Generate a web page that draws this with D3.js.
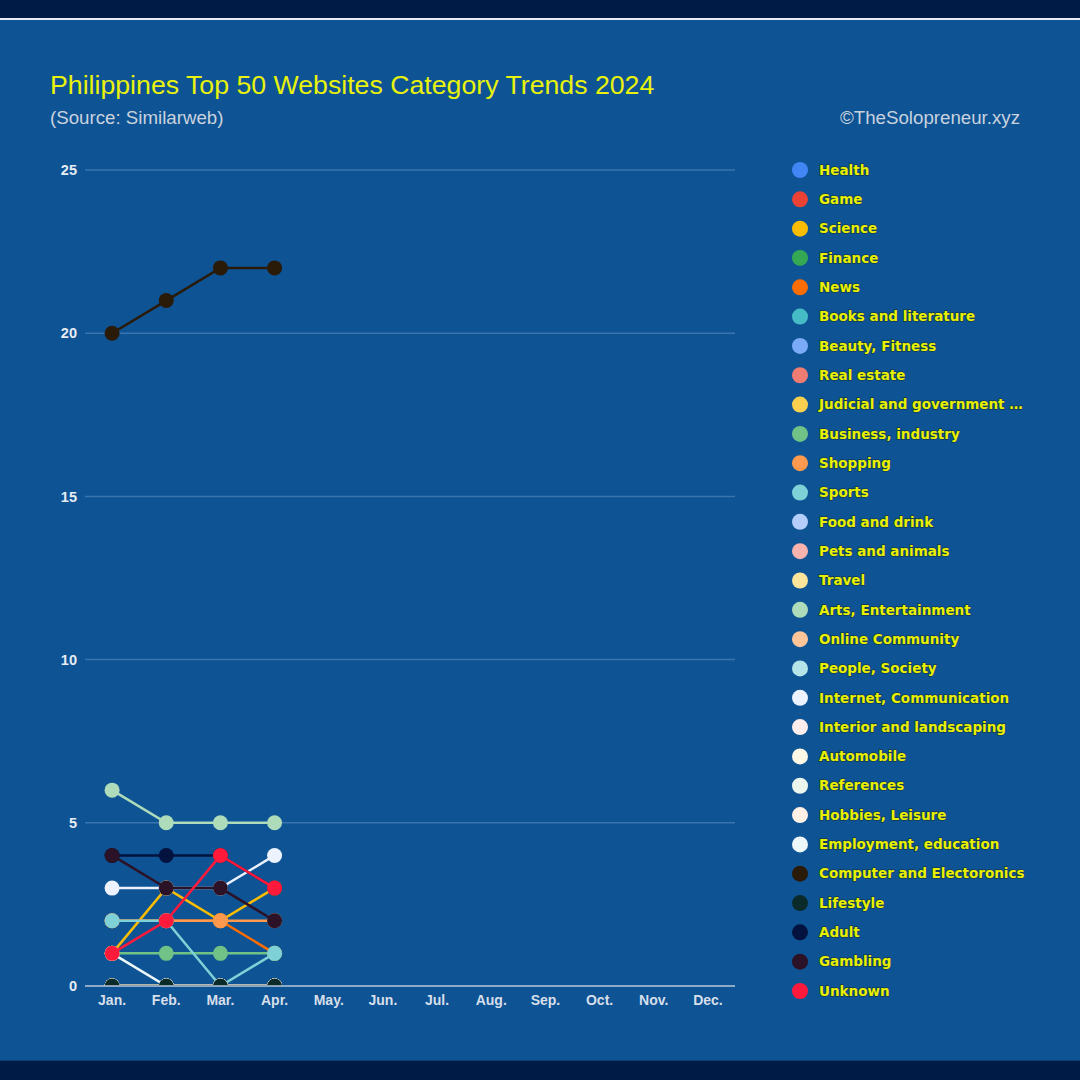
<!DOCTYPE html>
<html>
<head>
<meta charset="utf-8">
<script src="https://cdn.jsdelivr.net/npm/d3@7"></script>
<style>
  html, body { margin: 0; padding: 0; background: #001B46; }
  svg { display: block; }
</style>
</head>
<body>
<svg id="chart" width="1080" height="1080"></svg>
<script>
// ---------- DATA ----------
const months = ["Jan.", "Feb.", "Mar.", "Apr.", "May.", "Jun.", "Jul.", "Aug.", "Sep.", "Oct.", "Nov.", "Dec."];
const yTicks = [0, 5, 10, 15, 20, 25];
const categories = [
  "Health", "Game", "Science", "Finance", "News", "Books and literature", "Beauty, Fitness",
  "Real estate", "Judicial and government agencies", "Business, industry", "Shopping", "Sports",
  "Food and drink", "Pets and animals", "Travel", "Arts, Entertainment", "Online Community",
  "People, Society", "Internet, Communication", "Interior and landscaping", "Automobile",
  "References", "Hobbies, Leisure", "Employment, education", "Computer and Electoronics",
  "Lifestyle", "Adult", "Gambling", "Unknown"
];
const colors = [
  "#4285F4", "#EA4335", "#FBBC04", "#34A853", "#FF6D01", "#46BDC6", "#7BAAF7",
  "#F07B72", "#FCD04F", "#71C287", "#FF994D", "#7ED1D7",
  "#B3CEFB", "#F7B4AE", "#FDE49B", "#AEDCBA", "#FFC599",
  "#B5E5E8", "#ECF3FE", "#FDEDEC", "#FFF8E6",
  "#EAF6EE", "#FFF0E6", "#EDF8F9", "#2A1A08",
  "#0B2A2A", "#03123E", "#2B1226", "#FF1A3C"
];
// monthly values Jan..Apr (later months not yet available)
const seriesValues = [
  [0, 0, 0, 0],   // Health
  [0, 0, 0, 0],   // Game
  [1, 3, 2, 3],   // Science
  [0, 0, 0, 0],   // Finance
  [2, 2, 2, 1],   // News
  [0, 0, 0, 0],   // Books and literature
  [0, 0, 0, 0],   // Beauty, Fitness
  [0, 0, 0, 0],   // Real estate
  [0, 0, 0, 0],   // Judicial
  [1, 1, 1, 1],   // Business, industry
  [2, 2, 2, 2],   // Shopping
  [2, 2, 0, 1],   // Sports
  [0, 0, 0, 0],   // Food and drink
  [0, 0, 0, 0],   // Pets and animals
  [0, 0, 0, 0],   // Travel
  [6, 5, 5, 5],   // Arts, Entertainment
  [0, 0, 0, 0],   // Online Community
  [0, 0, 0, 0],   // People, Society
  [3, 3, 3, 4],   // Internet, Communication
  [0, 0, 0, 0],   // Interior and landscaping
  [0, 0, 0, 0],   // Automobile
  [0, 0, 0, 0],   // References
  [0, 0, 0, 0],   // Hobbies, Leisure
  [1, 0, 0, 0],   // Employment, education
  [20, 21, 22, 22], // Computer and Electoronics
  [0, 0, 0, 0],   // Lifestyle
  [4, 4, 4, 3],   // Adult
  [4, 3, 3, 2],   // Gambling
  [1, 2, 4, 3]    // Unknown
];

// ---------- LAYOUT ----------
const svg = d3.select("#chart");
const W = 1080, H = 1080;
const plot = { left: 85, right: 735, top: 170, bottom: 986 };

svg.append("rect").attr("x", 0).attr("y", 0).attr("width", W).attr("height", H).attr("fill", "#001B46");
svg.append("rect").attr("x", 0).attr("y", 20).attr("width", W).attr("height", 1041).attr("fill", "#0E5394");
svg.append("rect").attr("x", 0).attr("y", 18).attr("width", W).attr("height", 2).attr("fill", "#E6ECF4");
svg.append("rect").attr("x", 0).attr("y", 1060).attr("width", W).attr("height", 1).attr("fill", "#0A3E74");

// titles
svg.append("text").attr("x", 50).attr("y", 94)
  .attr("font-family", "Liberation Sans, Arial, sans-serif").attr("font-size", 26.7)
  .attr("fill", "#E8F20C").text("Philippines Top 50 Websites Category Trends 2024");
svg.append("text").attr("x", 50).attr("y", 124)
  .attr("font-family", "Liberation Sans, Arial, sans-serif").attr("font-size", 18.7)
  .attr("fill", "#C9D2DE").text("(Source: Similarweb)");
svg.append("text").attr("x", 1020).attr("y", 124).attr("text-anchor", "end")
  .attr("font-family", "Liberation Sans, Arial, sans-serif").attr("font-size", 18.7)
  .attr("fill", "#C9D2DE").text("©TheSolopreneur.xyz");

// scales
const x = d3.scaleBand().domain(months).range([plot.left, plot.right]);
const xc = m => x(m) + x.bandwidth() / 2;
const y = d3.scaleLinear().domain([0, 25]).range([plot.bottom, plot.top]);

// gridlines
const grid = svg.append("g");
grid.selectAll("line").data(yTicks.filter(t => t !== 0)).join("line")
  .attr("x1", plot.left).attr("x2", plot.right)
  .attr("y1", d => y(d)).attr("y2", d => y(d))
  .attr("stroke", "#3A74AE").attr("stroke-width", 1.5);

// y axis labels
const yAxis = svg.append("g").attr("transform", `translate(${plot.left - 8},0)`)
  .call(d3.axisLeft(y).tickValues(yTicks).tickSize(0).tickPadding(0));
yAxis.select(".domain").remove();
yAxis.selectAll("text")
  .attr("font-family", "Liberation Sans, Arial, sans-serif").attr("font-size", 14.5)
  .attr("font-weight", "bold").attr("fill", "#E6ECF4");

// x axis labels
const xAxis = svg.append("g").attr("transform", `translate(0,${plot.bottom + 9})`)
  .call(d3.axisBottom(x).tickSize(0).tickPadding(0));
xAxis.select(".domain").remove();
xAxis.selectAll("text")
  .attr("dy", "0.71em")
  .attr("font-family", "Liberation Sans, Arial, sans-serif").attr("font-size", 14)
  .attr("font-weight", "bold").attr("fill", "#D6DFEA");

// clip
svg.append("defs").append("clipPath").attr("id", "plotclip")
  .append("rect").attr("x", plot.left - 20).attr("y", plot.top - 20)
  .attr("width", plot.right - plot.left + 40).attr("height", plot.bottom - plot.top + 20);

// series
const series = categories.map((name, i) => ({
  name, color: colors[i],
  points: seriesValues[i].map((v, j) => ({ m: months[j], v }))
}));

const line = d3.line().x(d => xc(d.m)).y(d => y(d.v));
const plotG = svg.append("g").attr("clip-path", "url(#plotclip)");
series.forEach(s => {
  const g = plotG.append("g");
  g.append("path").datum(s.points).attr("d", line)
    .attr("fill", "none").attr("stroke", s.color).attr("stroke-width", 2.5);
  g.selectAll("circle").data(s.points).join("circle")
    .attr("cx", d => xc(d.m)).attr("cy", d => y(d.v)).attr("r", 7.5)
    .attr("fill", s.color);
});

// baseline
svg.append("line").attr("x1", plot.left).attr("x2", plot.right)
  .attr("y1", plot.bottom).attr("y2", plot.bottom)
  .attr("stroke", "#B9C8DA").attr("stroke-width", 1.5);

// legend
const legendLabel = n => n.length > 26 ? n.slice(0, 24) + "…" : n;
const ly = d3.scaleLinear().domain([0, categories.length - 1]).range([170, 991]);
const legend = svg.append("g");
const li = legend.selectAll("g").data(series).join("g")
  .attr("transform", (d, i) => `translate(800,${ly(i)})`);
li.append("circle").attr("r", 8).attr("fill", d => d.color);
li.append("text").attr("x", 19).attr("dy", "0.35em")
  .attr("font-family", "DejaVu Sans, Verdana, sans-serif").attr("font-size", 13.5)
  .attr("font-weight", "bold").attr("fill", "#E8F000")
  .style("paint-order", "stroke").attr("stroke", "rgba(20,40,30,0.6)").attr("stroke-width", 1.4)
  .text(d => legendLabel(d.name));
</script>
</body>
</html>
